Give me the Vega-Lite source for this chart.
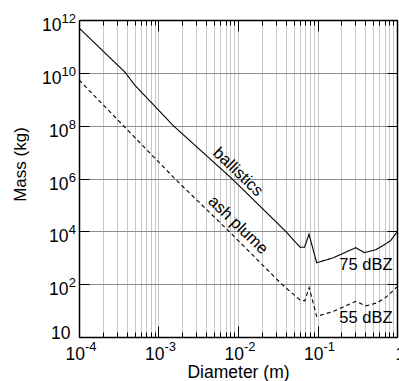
{
  "$schema": "https://vega.github.io/schema/vega-lite/v6.json",
  "width": 318,
  "height": 317,
  "autosize": {"type": "none"},
  "padding": {"left": 79, "top": 20, "right": 2, "bottom": 44},
  "config": {
    "font": "Liberation Sans",
    "view": {"stroke": null},
    "axis": {
      "labelColor": "black",
      "titleColor": "black",
      "tickColor": "black",
      "domainColor": "black",
      "titleFontWeight": "normal",
      "domainWidth": 1.5,
      "tickWidth": 1
    }
  },
  "datasets": {
    "curves": [
      {"series": "ballistics", "d": 0.0001, "m": 501000000000},
      {"series": "ballistics", "d": 0.00038, "m": 10470000000},
      {"series": "ballistics", "d": 0.000501, "m": 3470000000},
      {"series": "ballistics", "d": 0.001535, "m": 100000000},
      {"series": "ballistics", "d": 0.00834, "m": 1000000},
      {"series": "ballistics", "d": 0.0398, "m": 10000},
      {"series": "ballistics", "d": 0.0603, "m": 2512},
      {"series": "ballistics", "d": 0.0687, "m": 2512},
      {"series": "ballistics", "d": 0.0782, "m": 7762},
      {"series": "ballistics", "d": 0.0977, "m": 646},
      {"series": "ballistics", "d": 0.1585, "m": 1000},
      {"series": "ballistics", "d": 0.302, "m": 2400},
      {"series": "ballistics", "d": 0.389, "m": 1550},
      {"series": "ballistics", "d": 0.537, "m": 1995},
      {"series": "ballistics", "d": 0.692, "m": 3090},
      {"series": "ballistics", "d": 0.832, "m": 4470},
      {"series": "ballistics", "d": 1, "m": 9330},
      {"series": "ash plume", "d": 0.0001, "m": 5370000000},
      {"series": "ash plume", "d": 0.001596, "m": 1000000},
      {"series": "ash plume", "d": 0.00771, "m": 10000},
      {"series": "ash plume", "d": 0.0355, "m": 100},
      {"series": "ash plume", "d": 0.0603, "m": 25.1},
      {"series": "ash plume", "d": 0.0692, "m": 23.4},
      {"series": "ash plume", "d": 0.0785, "m": 74.1},
      {"series": "ash plume", "d": 0.0977, "m": 6.03},
      {"series": "ash plume", "d": 0.1585, "m": 9.33},
      {"series": "ash plume", "d": 0.302, "m": 22.4},
      {"series": "ash plume", "d": 0.407, "m": 15.1},
      {"series": "ash plume", "d": 0.556, "m": 19.5},
      {"series": "ash plume", "d": 0.724, "m": 31.6},
      {"series": "ash plume", "d": 1, "m": 79.4}
    ],
    "curveLabels": [
      {"label": "ballistics", "d": 0.01, "m": 1770000},
      {"label": "ash plume", "d": 0.01, "m": 17400}
    ],
    "levelLabels": [
      {"label": "75 dBZ", "d": 0.407, "m": 533},
      {"label": "55 dBZ", "d": 0.407, "m": 5.08}
    ],
    "xExponents": [
      {"d": 0.0001, "e": "-4"},
      {"d": 0.001, "e": "-3"},
      {"d": 0.01, "e": "-2"},
      {"d": 0.1, "e": "-1"}
    ],
    "yExponents": [
      {"m": 100, "e": "2"},
      {"m": 10000, "e": "4"},
      {"m": 1000000, "e": "6"},
      {"m": 100000000, "e": "8"},
      {"m": 10000000000, "e": "10"},
      {"m": 1000000000000, "e": "12"}
    ]
  },
  "layer": [
    {
      "data": {"name": "curves"},
      "mark": {"type": "line", "color": "black", "strokeWidth": 1.1, "clip": true},
      "encoding": {
        "x": {
          "field": "d", "type": "quantitative",
          "scale": {"type": "log", "domain": [0.0001, 1], "nice": false},
          "axis": {
            "orient": "bottom",
            "values": [0.0001,0.0002,0.0003,0.0004,0.0005,0.0006,0.0007,0.0008,0.0009,0.001,0.002,0.003,0.004,0.005,0.006,0.007,0.008,0.009,0.01,0.02,0.03,0.04,0.05,0.06,0.07,0.08,0.09,0.1,0.2,0.3,0.4,0.5,0.6,0.7,0.8,0.9,1],
            "labelExpr": "datum.value==1?'1':indexof([0.0001,0.001,0.01,0.1],datum.value)>=0?'10':''",
            "labelOverlap": false,
            "labelFlush": false,
            "labelBound": false,
            "labelAlign": {"condition": {"test": "datum.value==1", "value": "left"}, "value": "right"},
            "labelOffset": {"condition": {"test": "datum.value==1", "value": -2}, "value": 5.5},
            "labelBaseline": "alphabetic",
            "labelFontSize": 17.5,
            "tickSize": {"condition": {"test": "indexof([0.0001,0.001,0.01,0.1,1],datum.value)>=0", "value": -11}, "value": -5},
            "labelPadding": 33,
            "grid": true,
            "gridColor": "#c6c6c6",
            "gridWidth": 1,
            "title": "Diameter (m)",
            "titleFontSize": 17.5,
            "titleY": 40.5,
            "titleBaseline": "alphabetic"
          }
        },
        "y": {
          "field": "m", "type": "quantitative",
          "scale": {"type": "log", "domain": [1, 1000000000000], "nice": false},
          "axis": {
            "orient": "left",
            "values": [1, 100, 10000, 1000000, 100000000, 10000000000, 1000000000000],
            "labelExpr": "'10'",
            "labelOverlap": false,
            "labelFlush": false,
            "labelBound": false,
            "labelBaseline": "middle",
            "labelFontSize": 17.5,
            "tickSize": -10,
            "labelPadding": {"condition": [{"test": "datum.value==1", "value": 19}, {"test": "datum.value>=10000000000", "value": 28}], "value": 21},
            "labelOffset": {"condition": {"test": "datum.value==1", "value": -4}, "value": 5.5},
            "grid": true,
            "gridColor": "#8c8c8c",
            "gridWidth": 1,
            "title": "Mass (kg)",
            "titleFontSize": 17,
            "titleAngle": -90,
            "titleX": -54,
            "titleY": 144,
            "titleBaseline": "alphabetic",
            "titleAlign": "center"
          }
        },
        "strokeDash": {
          "field": "series", "type": "nominal",
          "scale": {"domain": ["ballistics", "ash plume"], "range": [[1, 0], [4, 3]]},
          "legend": null
        }
      }
    },
    {
      "data": {"name": "curveLabels"},
      "mark": {"type": "text", "angle": 44, "fontSize": 16.5, "align": "center", "baseline": "middle", "color": "black"},
      "encoding": {
        "x": {
          "field": "d", "type": "quantitative",
          "scale": {"type": "log", "domain": [0.0001, 1], "nice": false},
          "axis": {
            "orient": "top",
            "values": [0.0001,0.0002,0.0003,0.0004,0.0005,0.0006,0.0007,0.0008,0.0009,0.001,0.002,0.003,0.004,0.005,0.006,0.007,0.008,0.009,0.01,0.02,0.03,0.04,0.05,0.06,0.07,0.08,0.09,0.1,0.2,0.3,0.4,0.5,0.6,0.7,0.8,0.9,1],
            "labels": false,
            "title": null,
            "grid": false,
            "tickSize": {"condition": {"test": "indexof([0.0001,0.001,0.01,0.1,1],datum.value)>=0", "value": -11}, "value": -5}
          }
        },
        "y": {
          "field": "m", "type": "quantitative",
          "scale": {"type": "log", "domain": [1, 1000000000000], "nice": false},
          "axis": {
            "orient": "right",
            "values": [1, 100, 10000, 1000000, 100000000, 10000000000, 1000000000000],
            "labels": false,
            "title": null,
            "grid": false,
            "tickSize": -10
          }
        },
        "text": {"field": "label"}
      }
    },
    {
      "data": {"name": "levelLabels"},
      "mark": {"type": "text", "fontSize": 16.5, "align": "center", "baseline": "middle", "color": "black"},
      "encoding": {
        "x": {
          "field": "d", "type": "quantitative",
          "scale": {"type": "log", "domain": [0.0001, 1], "nice": false},
          "axis": null
        },
        "y": {
          "field": "m", "type": "quantitative",
          "scale": {"type": "log", "domain": [1, 1000000000000], "nice": false},
          "axis": null
        },
        "text": {"field": "label"}
      }
    },
    {
      "data": {"name": "xExponents"},
      "mark": {"type": "text", "fontSize": 13, "align": "left", "baseline": "alphabetic", "dx": 6, "dy": 14, "color": "black"},
      "encoding": {
        "x": {
          "field": "d", "type": "quantitative",
          "scale": {"type": "log", "domain": [0.0001, 1], "nice": false},
          "axis": null
        },
        "y": {
          "datum": 1, "type": "quantitative",
          "scale": {"type": "log", "domain": [1, 1000000000000], "nice": false},
          "axis": null
        },
        "text": {"field": "e"}
      }
    },
    {
      "data": {"name": "yExponents"},
      "mark": {"type": "text", "fontSize": 13, "align": "right", "baseline": "alphabetic", "dx": -3, "dy": 3, "color": "black"},
      "encoding": {
        "x": {
          "datum": 0.0001, "type": "quantitative",
          "scale": {"type": "log", "domain": [0.0001, 1], "nice": false},
          "axis": null
        },
        "y": {
          "field": "m", "type": "quantitative",
          "scale": {"type": "log", "domain": [1, 1000000000000], "nice": false},
          "axis": null
        },
        "text": {"field": "e"}
      }
    }
  ],
  "resolve": {"axis": {"x": "independent", "y": "independent"}}
}
